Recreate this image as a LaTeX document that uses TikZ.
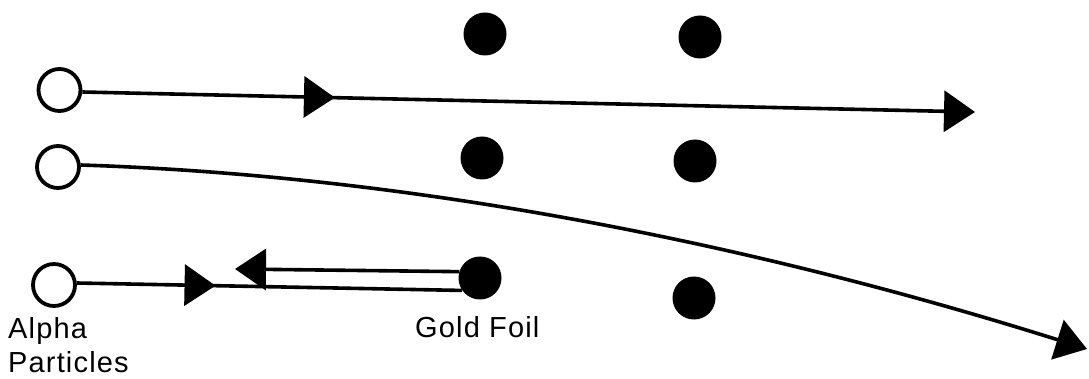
\documentclass[tikz,border=0pt]{standalone}
\usepackage{fontspec}
\setmainfont{Liberation Sans}[LetterSpace=4]
\usetikzlibrary{arrows.meta,decorations.markings}
\tikzset{
  tri/.tip={Triangle[length=31pt,width=41pt]},
  ray/.style={line width=3.6pt},
  alpha/.style={circle,draw,line width=3.8pt,minimum size=42pt,inner sep=0pt},
  gold/.style={circle,fill=black,minimum size=43pt,inner sep=0pt},
  lbl/.style={anchor=base west,inner sep=0pt,font=\fontsize{29}{34}\selectfont},
  midarrow/.style={postaction=decorate,decoration={markings,mark=at position #1 with {\arrow{tri}}}}
}
\begin{document}
\begin{tikzpicture}[x=1pt,y=-1pt]
\useasboundingbox (0,0) rectangle (1089,379);
% alpha particles
\node[alpha] (a1) at (59.5,90) {};
\node[alpha] (a2) at (58,167) {};
\node[alpha] (a3) at (54,285) {};
% gold foil nuclei
\node[gold] (g11) at (485,34) {};
\node[gold] (g12) at (700,37) {};
\node[gold] (g21) at (482,158) {};
\node[gold] (g22) at (695,161) {};
\node[gold] (g31) at (480,278) {};
\node[gold] (g32) at (694,298) {};
% end points
\coordinate (e1) at (975,112);
\coordinate (e2) at (1087,349);
\coordinate (e3) at (235,269);
% trajectories
\draw[ray,-{tri},midarrow=0.283] (a1.-5) -- (e1);
\draw[ray,-{tri}] (a2.5) .. controls (420,176) and (760,246) .. (e2);
\draw[ray,midarrow=0.36] (a3.5) -- (g31.215);
\draw[ray,-{tri}] (g31.163) -- (e3);
% labels
\node[lbl] (lalpha) at (8,338) {Alpha};
\node[lbl] (lpart) at (8,372) {Particles};
\node[lbl] (lgold) at (415,337) {Gold Foil};
\end{tikzpicture}
\end{document}
